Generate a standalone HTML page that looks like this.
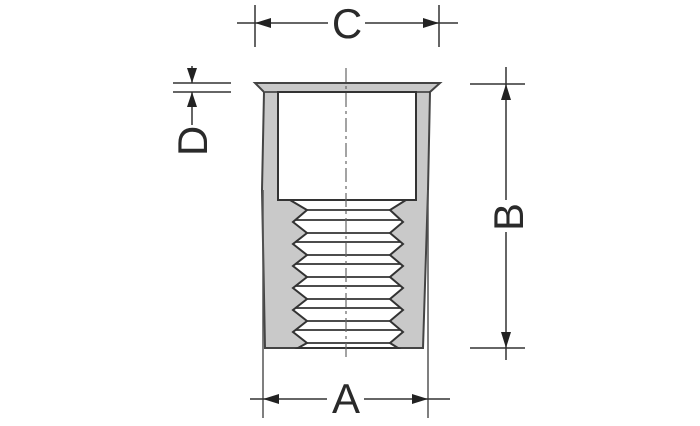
<!DOCTYPE html>
<html><head><meta charset="utf-8"><style>
html,body{margin:0;padding:0;background:#fff;}
svg{display:block}
text{font-family:"Liberation Sans",sans-serif;fill:#2a2a2a;}
</style></head><body>
<svg width="700" height="426" viewBox="0 0 700 426" xmlns="http://www.w3.org/2000/svg">
<g stroke="#333" stroke-width="1.5" fill="none">
<!-- body gray -->
<path d="M255,83 L440,83 L430,92 L428,190 L423,348 L265,348 L262,190 L264,92 Z" fill="#c9c9c9" stroke="#444" stroke-width="2"/>
<!-- flange top -->
<line x1="265" y1="92" x2="430" y2="92"/>
<!-- bore -->
<rect x="278" y="92" width="138" height="108" fill="#fff" stroke="#333" stroke-width="2"/>
<!-- thread region -->
<path d="M290,200 L307,210 L293,222 L307,233 L293,244 L307,255 L293,266 L307,277 L293,288 L307,299 L293,310 L307,321 L293,332 L307,343 L298,348 L398,348 L390,343 L403,332 L390,321 L403,310 L390,299 L403,288 L390,277 L403,266 L390,255 L403,244 L390,233 L403,222 L390,210 L406,200 Z" fill="#fff" stroke="#333" stroke-width="2"/>
<g stroke-width="1.8">
<line x1="307" y1="210" x2="390" y2="210"/>
<line x1="295" y1="220" x2="401" y2="220"/>
<line x1="307" y1="233" x2="390" y2="233"/>
<line x1="295" y1="242" x2="401" y2="242"/>
<line x1="307" y1="255" x2="390" y2="255"/>
<line x1="295" y1="264" x2="401" y2="264"/>
<line x1="307" y1="277" x2="390" y2="277"/>
<line x1="295" y1="286" x2="401" y2="286"/>
<line x1="307" y1="299" x2="390" y2="299"/>
<line x1="295" y1="308" x2="401" y2="308"/>
<line x1="307" y1="321" x2="390" y2="321"/>
<line x1="295" y1="330" x2="401" y2="330"/>
<line x1="307" y1="343" x2="390" y2="343"/>
</g>
<!-- center line -->
<line x1="346" y1="68" x2="346" y2="360" stroke="#666" stroke-width="1.2" stroke-dasharray="14,4,3,4"/>
<!-- extension lines A -->
<line x1="263" y1="190" x2="263" y2="418" stroke="#555"/>
<line x1="428" y1="190" x2="428" y2="418" stroke="#555"/>
<!-- A dim -->
<line x1="250" y1="399" x2="327" y2="399"/>
<line x1="364" y1="399" x2="450" y2="399"/>
<!-- C ext -->
<line x1="255" y1="5" x2="255" y2="47"/>
<line x1="439" y1="5" x2="439" y2="47"/>
<line x1="237" y1="23" x2="328" y2="23"/>
<line x1="365" y1="23" x2="458" y2="23"/>
<!-- B -->
<line x1="470" y1="84" x2="525" y2="84"/>
<line x1="470" y1="348" x2="525" y2="348"/>
<line x1="506" y1="67" x2="506" y2="200"/>
<line x1="506" y1="232" x2="506" y2="360"/>
<!-- D -->
<line x1="173" y1="83" x2="231" y2="83"/>
<line x1="173" y1="92" x2="231" y2="92"/>
<line x1="192" y1="66" x2="192" y2="83"/>
<line x1="192" y1="92" x2="192" y2="125"/>
</g>
<g fill="#222">
<polygon points="263,399 279,394 279,404"/>
<polygon points="428,399 412,394 412,404"/>
<polygon points="255,23 271,18 271,28"/>
<polygon points="439,23 423,18 423,28"/>
<polygon points="506,84 501,100 511,100"/>
<polygon points="506,348 501,332 511,332"/>
<polygon points="192,83 187,68 197,68"/>
<polygon points="192,92 187,107 197,107"/>
</g>
<text x="346" y="413" font-size="42" text-anchor="middle">A</text>
<text x="347" y="38" font-size="42" text-anchor="middle">C</text>
<text transform="translate(523,217) rotate(-90)" font-size="42" text-anchor="middle">B</text>
<text transform="translate(207,141) rotate(-90)" font-size="42" text-anchor="middle">D</text>
</svg>
</body></html>
